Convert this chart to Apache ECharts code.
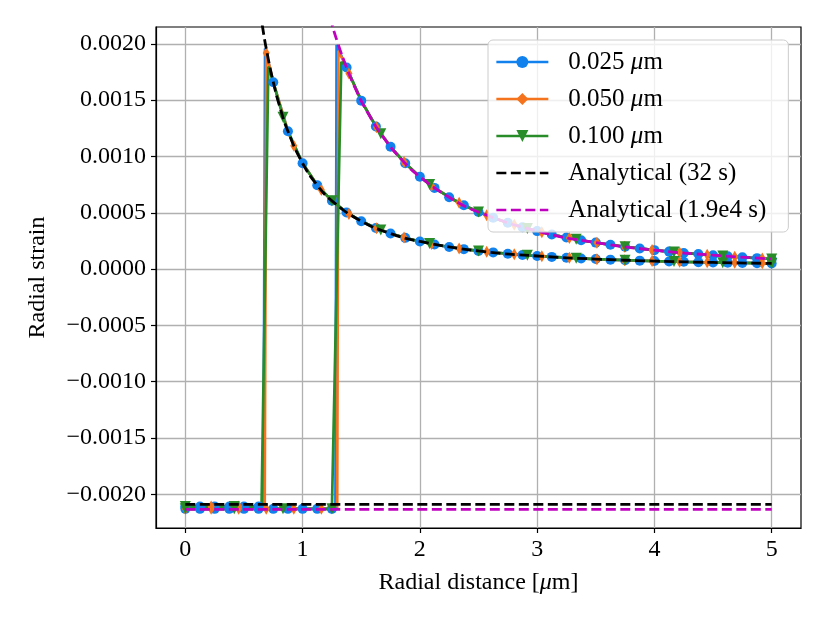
<!DOCTYPE html>
<html>
<head>
<meta charset="utf-8">
<script src="https://cdn.jsdelivr.net/npm/echarts@6/dist/echarts.min.js"></script>
<style>
  html, body { margin: 0; background: #fff; }
  #chart { width: 830px; height: 623px; }
</style>
</head>
<body>
<div id="chart"></div>
<script>
// marker positions [um] and radial strain for each mesh, at 32 s and 1.9e4 s
const rFine = [0, 0.125, 0.25, 0.375, 0.5, 0.625, 0.75, 0.875, 1, 1.125, 1.25, 1.375, 1.5, 1.625, 1.75, 1.875,
  2, 2.125, 2.25, 2.375, 2.5, 2.625, 2.75, 2.875, 3, 3.125, 3.25, 3.375, 3.5, 3.625, 3.75, 3.875,
  4, 4.125, 4.25, 4.375, 4.5, 4.625, 4.75, 4.875, 5];
const strainFine32 = [-0.00211, -0.00211, -0.00211, -0.00211, -0.00211, -0.00211,
  0.00166, 0.001224, 0.00094, 0.000745, 0.000606, 0.000503, 0.000425, 0.000364, 0.000316, 0.000277,
  0.000245, 0.000218, 0.000196, 0.000177, 0.000161, 0.000148, 0.000136, 0.000125, 0.000116, 0.000108,
  0.000101, 0.0000944, 0.0000887, 0.0000835, 0.0000789, 0.0000747, 0.0000709, 0.0000675, 0.0000643,
  0.0000614, 0.0000588, 0.0000563, 0.0000541, 0.000052, 0.0000501];
const strainFine19k = [-0.00213, -0.00213, -0.00213, -0.00213, -0.00213, -0.00213, -0.00213, -0.00213,
  -0.00213, -0.00213, -0.00213,
  0.00179, 0.001496, 0.001267, 0.001086, 0.00094, 0.00082, 0.000721, 0.000638, 0.000567, 0.000507,
  0.000455, 0.000411, 0.000372, 0.000337, 0.000307, 0.00028, 0.000256, 0.000235, 0.000216, 0.000198,
  0.000183, 0.000168, 0.000155, 0.000143, 0.000133, 0.000123, 0.000114, 0.000105, 0.000097, 0.00009];

const rMedium = [0, 0.22, 0.455, 0.69, 0.925, 1.16, 1.395, 1.63, 1.865, 2.1, 2.335, 2.57, 2.805,
  3.04, 3.275, 3.51, 3.745, 3.98, 4.215, 4.45, 4.685, 4.92];
const strainMedium32 = [-0.00211, -0.00211, -0.00211, 0.00192, 0.001096, 0.000702, 0.000489, 0.000362,
  0.00028, 0.000223, 0.000183, 0.000153, 0.000131, 0.000113, 0.0000994, 0.0000882, 0.0000791,
  0.0000715, 0.0000652, 0.0000598, 0.0000552, 0.0000513];
const strainMedium19k = [-0.00213, -0.00213, -0.00213, -0.00213, -0.00213, -0.00213,
  0.001737, 0.001259, 0.00095, 0.000739, 0.000589, 0.000477, 0.000393, 0.000327, 0.000275,
  0.000233, 0.000199, 0.00017, 0.000147, 0.000127, 0.000109, 0.0000946];

const rCoarse = [0, 0.417, 0.833, 1.25, 1.667, 2.083, 2.5, 2.917, 3.333, 3.75, 4.167, 4.583, 5];
const strainCoarse32 = [-0.00211, -0.00211, 0.001349, 0.000606, 0.000347, 0.000227, 0.000161,
  0.000122, 0.0000964, 0.0000789, 0.0000664, 0.0000571, 0.0000501];
const strainCoarse19k = [-0.00213, -0.00213, -0.00213, -0.00213, 0.001202, 0.000752, 0.000507,
  0.00036, 0.000264, 0.000198, 0.000151, 0.000117, 0.00009];

// where each line leaves the core value (no marker there)
const jumpFine32 = [[0.666, -0.00211], [0.68, 0.00196]];
const jumpFine19k = [[1.28, -0.00213], [1.29, 0.00199]];
const jumpMedium32 = [[0.677, -0.00211]];
const jumpMedium19k = [[1.295, -0.00213], [1.305, 0.00194]];
const jumpCoarse32 = [[0.65, -0.00211], [0.708, 0.0018]];
const jumpCoarse19k = [[1.26, -0.00213], [1.33, 0.00184]];

// analytical solutions
const rAna32 = [0.62, 0.66, 0.7, 0.75, 0.8, 0.875, 1, 1.125, 1.25, 1.5, 1.75, 2, 2.5, 3, 3.5, 4, 4.5, 5];
const strainAna32 = [0.002425, 0.002141, 0.001905, 0.001661, 0.001461, 0.001224, 0.00094, 0.000745,
  0.000606, 0.000425, 0.000316, 0.000245, 0.000161, 0.000116, 0.0000887, 0.0000709, 0.0000588, 0.0000501];
const coreAna32 = -0.00209;
const rAna19k = [1.2, 1.25, 1.3, 1.375, 1.45, 1.55, 1.7, 1.85, 2, 2.25, 2.5, 3, 3.5, 4, 4.5, 5];
const strainAna19k = [0.002365, 0.002176, 0.002008, 0.00179, 0.001604, 0.001398, 0.001154, 0.000967,
  0.00082, 0.000638, 0.000507, 0.000337, 0.000235, 0.000168, 0.000123, 0.00009];
const coreAna19k = -0.002135;

const xTicks = [0, 1, 2, 3, 4, 5];
const yTicks = [-0.002, -0.0015, -0.001, -0.0005, 0, 0.0005, 0.001, 0.0015, 0.002];

const FONT = 'Liberation Serif';
const blue = '#1181ee', orange = '#f5731c', green = '#288c28';

// markers + jump points + the fine curve, sorted along r
function lineData(rMark, eMark, jump, rCurve, eCurve) {
  const pts = rMark.map((r, i) => ({ value: [r, eMark[i]] }));
  jump.forEach(p => pts.push({ value: p, symbol: 'none' }));
  const lastJump = jump[jump.length - 1][0];
  rCurve.forEach((r, i) => {
    if (r > lastJump && eCurve[i] > 0 && rMark.indexOf(r) < 0) {
      pts.push({ value: [r, eCurve[i]], symbol: 'none' });
    }
  });
  return pts.sort((a, b) => a.value[0] - b.value[0]);
}

function meshSeries(name, color, symbol, size, rotate, data) {
  return {
    name: name, type: 'line', data: data, z: 2,
    symbol: symbol, symbolSize: size, symbolRotate: rotate,
    lineStyle: { color: color, width: 2.7 },
    itemStyle: { color: color, borderWidth: 0 },
    emphasis: { disabled: true }
  };
}

function anaSeries(name, color, data, smooth) {
  return {
    name: name, type: 'line', data: data, z: 3, smooth: smooth,
    symbol: 'none', showSymbol: false,
    lineStyle: { color: color, width: 2.8, type: [10, 4.5] },
    itemStyle: { color: color },
    emphasis: { disabled: true }
  };
}

const chart = echarts.init(document.getElementById('chart'));
chart.setOption({
  animation: false,
  textStyle: { fontFamily: FONT },
  grid: { left: 156, right: 29, top: 27, bottom: 95, show: true, borderColor: '#000', borderWidth: 1.2 },
  legend: {
    data: [
      { name: '0.025 μm' },
      { name: '0.050 μm' },
      { name: '0.100 μm' },
      { name: 'Analytical (32 s)', itemStyle: { opacity: 0 } },
      { name: 'Analytical (1.9e4 s)', itemStyle: { opacity: 0 } }
    ],
    orient: 'vertical', left: 488, top: 40,
    itemWidth: 52, itemHeight: 15, itemGap: 11,
    padding: [9, 10, 9, 7],
    lineStyle: { width: 2.7 },
    backgroundColor: 'rgba(255,255,255,0.8)', borderColor: '#cccccc', borderWidth: 1, borderRadius: 5,
    formatter: name => name.replace('μ', '{i|μ}'),
    textStyle: {
      fontFamily: FONT, fontSize: 25, lineHeight: 26, color: '#000',
      padding: [0, 0, 0, 15], width: 210, overflow: 'truncate',
      rich: { i: { fontFamily: FONT, fontSize: 25, fontStyle: 'italic', color: '#000' } }
    }
  },
  xAxis: {
    type: 'value', min: -0.25, max: 5.25, splitNumber: 5,
    name: 'Radial distance [{i|μ}m]', nameLocation: 'middle', nameGap: 43,
    nameTextStyle: {
      fontFamily: FONT, fontSize: 24, color: '#000',
      rich: { i: { fontFamily: FONT, fontSize: 24, fontStyle: 'italic', color: '#000' } }
    },
    axisLine: { show: true, onZero: false, lineStyle: { color: '#000', width: 1.2 } },
    axisTick: { show: true, inside: false, length: 5, lineStyle: { color: '#000', width: 1.2 }, customValues: xTicks },
    axisLabel: { color: '#000', fontSize: 24, margin: 10,
      customValues: xTicks, formatter: v => String(Math.round(v)) },
    splitLine: { show: true, lineStyle: { color: '#b0b0b0', width: 1.3 } }
  },
  yAxis: {
    type: 'value', min: -0.0023, max: 0.00215, splitNumber: 9,
    name: 'Radial strain', nameLocation: 'middle', nameGap: 106, nameRotate: 90,
    nameTextStyle: { fontFamily: FONT, fontSize: 24, color: '#000' },
    axisLine: { show: true, onZero: false, lineStyle: { color: '#000', width: 1.2 } },
    axisTick: { show: true, inside: false, length: 5, lineStyle: { color: '#000', width: 1.2 }, customValues: yTicks },
    axisLabel: { color: '#000', fontSize: 24, margin: 10,
      customValues: yTicks,
      formatter: v => (v < -1e-9 ? '\u2212' : '') + Math.abs(v).toFixed(4) },
    splitLine: { show: true, lineStyle: { color: '#b0b0b0', width: 1.3 } }
  },
  series: [
    meshSeries('0.025 μm', blue, 'circle', 10, 0, lineData(rFine, strainFine32, jumpFine32, rFine, strainFine32)),
    meshSeries('0.025 μm', blue, 'circle', 10, 0, lineData(rFine, strainFine19k, jumpFine19k, rFine, strainFine19k)),
    meshSeries('0.050 μm', orange, 'diamond', [7, 12], 0, lineData(rMedium, strainMedium32, jumpMedium32, rFine, strainFine32)),
    meshSeries('0.050 μm', orange, 'diamond', [7, 12], 0, lineData(rMedium, strainMedium19k, jumpMedium19k, rFine, strainFine19k)),
    meshSeries('0.100 μm', green, 'triangle', 11, 180, lineData(rCoarse, strainCoarse32, jumpCoarse32, rFine, strainFine32)),
    meshSeries('0.100 μm', green, 'triangle', 11, 180, lineData(rCoarse, strainCoarse19k, jumpCoarse19k, rFine, strainFine19k)),
    anaSeries('Analytical (32 s)', '#000', rAna32.map((r, i) => [r, strainAna32[i]]), true),
    anaSeries('Analytical (32 s)', '#000', [[0, coreAna32], [5, coreAna32]], false),
    anaSeries('Analytical (1.9e4 s)', '#bf00bf', rAna19k.map((r, i) => [r, strainAna19k[i]]), true),
    anaSeries('Analytical (1.9e4 s)', '#bf00bf', [[0, coreAna19k], [5, coreAna19k]], false)
  ]
});
</script>
</body>
</html>
